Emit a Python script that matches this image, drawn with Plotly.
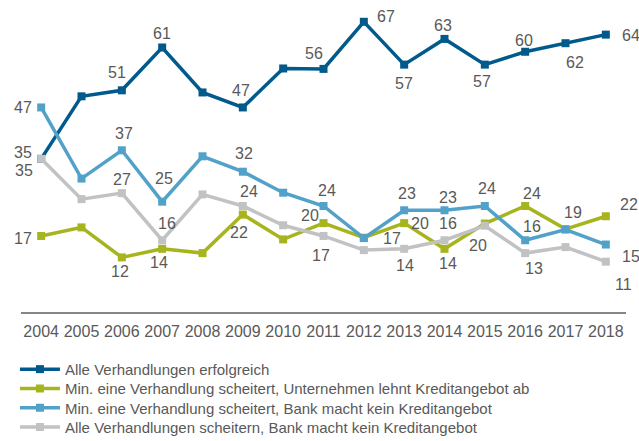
import plotly.graph_objects as go

# ---------------- data ----------------
years = [str(y) for y in range(2004, 2019)]

series_names = [
    "Alle Verhandlungen erfolgreich",
    "Min. eine Verhandlung scheitert, Unternehmen lehnt Kreditangebot ab",
    "Min. eine Verhandlung scheitert, Bank macht kein Kreditangebot",
    "Alle Verhandlungen scheitern, Bank macht kein Kreditangebot",
]

alle_erfolgreich = [35, 49.6, 51, 61, 50.5, 47, 56.1, 56, 67, 57, 63, 57, 60, 62, 64]
unternehmen_lehnt_ab = [17, 19.0, 12, 14, 13.0, 22, 16.2, 20, 16.6, 20, 14, 19.9, 24, 18.6, 21.6]
bank_kein_angebot = [47, 30.4, 37, 25, 35.6, 32, 27.1, 24, 16.5, 23, 23, 24, 16, 18.5, 15]
alle_scheitern = [35, 25.6, 27, 16, 26.7, 24, 19.5, 17, 13.7, 14, 16, 19.4, 13, 14.4, 11]

# which points carry a value label (index of year)
labelled_points = [
    [0, 2, 3, 5, 7, 8, 9, 10, 11, 12, 13, 14],
    [0, 2, 3, 5, 7, 8, 9, 10, 11, 12, 13, 14],
    [0, 2, 3, 5, 7, 9, 10, 11, 12, 14],
    [0, 2, 3, 5, 7, 9, 10, 12, 14],
]

# ---------------- styles ----------------
colors = ["#005a8b", "#a6b51e", "#52a1c9", "#c1c2c4"]
text_color = "#595959"
font_family = "Liberation Sans, Arial, sans-serif"

# label pixel offsets (dx, dy; dy positive = downward), per series, keyed by year index
label_offsets = [
    {0: (-18, -6), 2: (-5, -18), 3: (0, -14), 5: (-2, -17), 7: (-10, -15), 8: (22, -5),
     9: (0, 19), 10: (-2, -13), 11: (-3, 17), 12: (-1, -11), 13: (9, 19), 14: (25, 1)},
    {0: (-18, 3), 2: (-2, 14), 3: (-3, 14), 5: (-4, 18), 7: (-14, -8), 8: (28, 1),
     9: (16, 0), 10: (3, 15), 11: (-7, 22), 12: (7, -12), 13: (7, -17), 14: (23, -12)},
    {0: (-18, 0), 2: (2, -17), 3: (2, -23), 5: (1, -18), 7: (3, -15), 9: (3, -17),
     10: (3, -13), 11: (2, -17), 12: (7, -14), 14: (25, 12)},
    {0: (-17, 12), 2: (0, -14), 3: (5, -17), 5: (6, -14), 7: (-3, 20), 9: (1, 17),
     10: (3, -17), 12: (9, 15), 14: (18, 23)},
]

# legend rows (paper y, one legend per series so the row spacing can match)
legend_ids = ["legend", "legend2", "legend3", "legend4"]
legend_y = [-0.190, -0.254, -0.318, -0.382]

all_values = [alle_erfolgreich, unternehmen_lehnt_ab, bank_kein_angebot, alle_scheitern]

fig = go.Figure()
annotations = []
for name, vals, col, pts, offs, lid in zip(series_names, all_values, colors,
                                           labelled_points, label_offsets, legend_ids):
    fig.add_trace(go.Scatter(
        x=years, y=vals, name=name, mode="lines+markers",
        line=dict(color=col, width=3.5),
        marker=dict(color=col, size=8, symbol="square"),
        cliponaxis=False, legend=lid,
    ))
    for i in pts:
        dx, dy = offs[i]
        annotations.append(dict(
            x=i, y=vals[i], xref="x", yref="y",   # category index on the x axis
            text=f"{vals[i]:.0f}", showarrow=False,
            xshift=dx, yshift=-dy,
            font=dict(size=16, color=text_color, family=font_family),
        ))

legend_common = dict(
    x=-0.01, xanchor="left", yanchor="middle",
    font=dict(size=15, color=text_color, family=font_family),
    itemwidth=40, bgcolor="rgba(0,0,0,0)", borderwidth=0,
)
layout_legends = {lid: dict(legend_common, y=ly) for lid, ly in zip(legend_ids, legend_y)}

fig.update_layout(
    width=639, height=441,
    margin=dict(l=21, r=13, t=10, b=129.3, autoexpand=False),
    paper_bgcolor="white", plot_bgcolor="white",
    font=dict(family=font_family, color=text_color, size=16),
    showlegend=True,
    annotations=annotations,
    **layout_legends,
)
fig.update_xaxes(
    type="category", range=[-0.5, len(years) - 0.5],
    showgrid=False, zeroline=False,
    showline=True, linecolor="#868686", linewidth=2,
    ticks="", ticklabelstandoff=4,
    tickfont=dict(size=16, color=text_color, family=font_family),
)
fig.update_yaxes(range=[-0.75, 69.75], visible=False, showgrid=False, zeroline=False)

fig.write_html("out.html", config={"displayModeBar": False},
               post_script="document.body.style.margin='0';")
